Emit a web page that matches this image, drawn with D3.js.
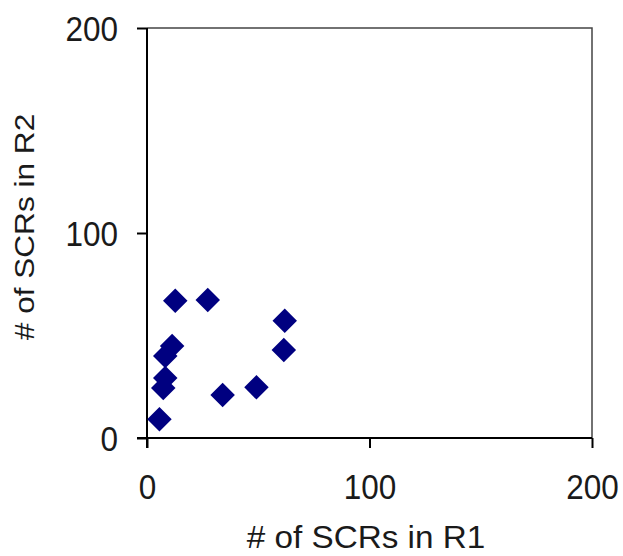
<!DOCTYPE html>
<html>
<head>
<meta charset="utf-8">
<script src="https://cdn.jsdelivr.net/npm/d3@7/dist/d3.min.js"></script>
<style>
  html, body { margin: 0; padding: 0; background: #fff; }
  svg text { font-family: "Liberation Sans", Arial, sans-serif; fill: #1a1a1a; }
</style>
</head>
<body>
<svg id="chart" width="623" height="556"></svg>
<script>
// SCR counts per sample: region R1 (x) vs region R2 (y)
const scrR1 = [12.7, 27.3, 61.9, 61.5, 11.3, 8.2, 8.2, 7.3, 34.0, 49.2, 5.6];
const scrR2 = [67.0, 67.3, 57.2, 42.9, 44.9, 40.0, 29.3, 24.4, 21.0, 24.7, 9.1];
const xTicks = [0, 100, 200];
const yTicks = [0, 100, 200];
const xTitle = "# of SCRs in R1";
const yTitle = "# of SCRs in R2";

(function () {
  const svg = d3.select("#chart");
  const plotL = 147, plotR = 592, plotT = 28, plotB = 438;
  const tickFont = 35, tickSqueeze = 0.9;

  const x = d3.scaleLinear().domain([0, 200]).range([plotL, plotR]);
  const y = d3.scaleLinear().domain([0, 200]).range([plotB, plotT]);

  // plot frame (top and right edges)
  svg.append("path")
    .attr("d", `M${plotL},${plotT}H${plotR}V${plotB}`)
    .attr("fill", "none").attr("stroke", "#444").attr("stroke-width", 1.5);

  // x axis
  const xAxis = svg.append("g").attr("transform", `translate(0,${plotB})`)
    .call(d3.axisBottom(x).tickValues(xTicks).tickSize(10).tickSizeOuter(0));
  xAxis.selectAll(".tick text")
    .attr("y", null).attr("dy", null)
    .attr("transform", `translate(0,61) scale(${tickSqueeze},1)`);

  // y axis
  const yAxis = svg.append("g").attr("transform", `translate(${plotL},0)`)
    .call(d3.axisLeft(y).tickValues(yTicks).tickSize(10).tickSizeOuter(0));
  yAxis.selectAll(".tick text")
    .attr("x", null).attr("dy", null)
    .attr("transform", `translate(-29,12) scale(${tickSqueeze},1)`);

  [xAxis, yAxis].forEach(g => {
    g.select(".domain").attr("stroke", "#000").attr("stroke-width", 2);
    g.selectAll(".tick line").attr("stroke", "#000").attr("stroke-width", 2);
    g.selectAll(".tick text").attr("font-size", tickFont)
      .attr("font-family", "Liberation Sans, Arial, sans-serif").attr("fill", "#1a1a1a");
  });
  // axes run slightly past the origin
  xAxis.select(".domain").attr("d", `M${plotL - 10},0H${plotR}`);
  yAxis.select(".domain").attr("d", `M0,${plotT}V${plotB + 10}`);

  // markers
  const data = scrR1.map((v, i) => ({ x: v, y: scrR2[i] }));
  const diamond = d3.symbol().type(d3.symbolSquare).size(300);
  svg.append("g").selectAll("path").data(data).join("path")
    .attr("d", diamond)
    .attr("transform", d => `translate(${x(d.x)},${y(d.y)}) rotate(45)`)
    .attr("fill", "#000080");

  // axis titles
  svg.append("text")
    .attr("transform", "translate(366,548) scale(1.04,1)")
    .attr("text-anchor", "middle").attr("font-size", 32)
    .text(xTitle);
  svg.append("text")
    .attr("transform", "translate(34,227) rotate(-90) scale(1.17,1)")
    .attr("text-anchor", "middle").attr("font-size", 27)
    .text(yTitle);
})();
</script>
</body>
</html>
